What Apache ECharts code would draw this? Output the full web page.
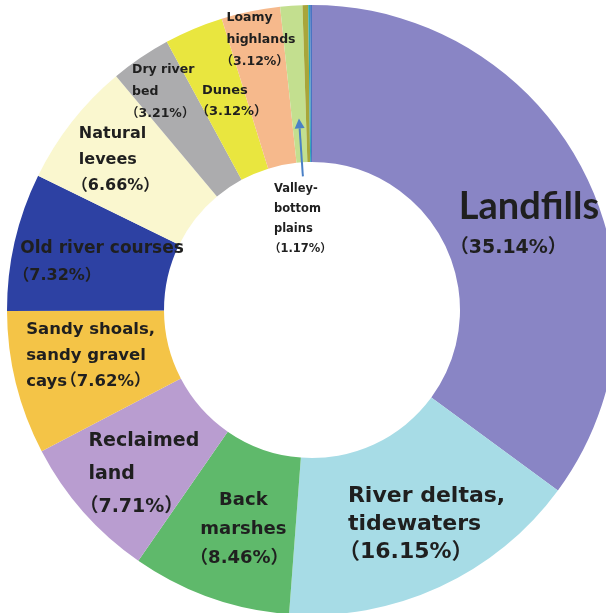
<!DOCTYPE html>
<html>
<head>
<meta charset="utf-8">
<script src="https://cdn.jsdelivr.net/npm/echarts@6/dist/echarts.min.js"></script>
<style>
  html, body { margin: 0; padding: 0; background: #ffffff; }
  #chart { width: 606px; height: 613px; }
</style>
</head>
<body>
<div id="chart"></div>
<script>
// ---- data ----
const categories = [
  'Landfills',
  'River deltas,\ntidewaters',
  'Back\nmarshes',
  'Reclaimed\nland',
  'Sandy shoals,\nsandy gravel\ncays',
  'Old river courses',
  'Natural\nlevees',
  'Dry river\nbed',
  'Dunes',
  'Loamy\nhighlands',
  'Valley-\nbottom\nplains',
  'Unlabeled A',
  'Unlabeled B',
  'Unlabeled C'
];
const shares = [35.14, 16.15, 8.46, 7.71, 7.62, 7.32, 6.66, 3.21, 3.12, 3.12, 1.17, 0.30, 0.10, 0.10];
const showLabel = [true, true, true, true, true, true, true, true, true, true, true, false, false, false];
const pctInline = [false, false, false, false, true, false, false, false, false, false, false, false, false, false];

// ---- styles ----
const colors = ['#8985c5', '#a7dce6', '#5fb96b', '#b99dd0', '#f4c447', '#2d41a3', '#faf7cf',
  '#acacae', '#e9e63f', '#f6b98c', '#c3df8f', '#a8a63a', '#2ea7b7', '#4a74c2'];
const SANS = '"DejaVu Sans", "Noto Sans CJK JP", sans-serif';
const LATO = 'Lato, "Noto Sans CJK JP", sans-serif';
const labelStyle = [
  { n: 38, p: 19, lh: 42, align: 'left', dx: -58, dy: 26, nf: LATO },
  { n: 22, p: 22, lh: 28, align: 'left', dx: -60, dy: 6 },
  { n: 18, p: 18, lh: 29, align: 'center', dx: 12, dy: 3 },
  { n: 19, p: 19, lh: 33, align: 'left', dx: -51, dy: 12 },
  { n: 16.5, p: 16.5, lh: 26, align: 'left', dx: -63, dy: -9 },
  { n: 17, p: 16, lh: 28, align: 'left', dx: -68, dy: 4 },
  { n: 16, p: 16, lh: 26, align: 'left', dx: -49, dy: -9 },
  { n: 12.5, p: 12.5, lh: 22, align: 'left', dx: -48, dy: -28 },
  { n: 13, p: 13, lh: 21, align: 'left', dx: -18, dy: 3 },
  { n: 12.5, p: 12.5, lh: 22, align: 'left', dx: -38, dy: -45 },
  { n: 11.5, p: 11.5, lh: 20, align: 'left', dx: -20, dy: 138 }
];
const CX = 312, CY = 310, R0 = 148, R1 = 305;

function buildLabel(i) {
  const lines = categories[i].split('\n');
  const pct = '（' + shares[i].toFixed(2) + '%）';
  let parts = lines.map(l => '{n|' + l + '}');
  if (pctInline[i]) parts[parts.length - 1] += '{p|' + pct + '}';
  else parts.push('{p|' + pct + '}');
  return parts.join('\n');
}

const data = shares.map((v, i) => {
  const s = labelStyle[i];
  return {
    name: categories[i].replace(/\n/g, ' '),
    value: v,
    itemStyle: { color: colors[i] },
    label: showLabel[i] ? {
      show: true,
      position: 'inside',
      formatter: buildLabel(i),
      rich: {
        n: { fontSize: s.n, lineHeight: s.lh, fontWeight: 'bold', color: '#1f1f1f', fontFamily: s.nf || SANS },
        p: { fontSize: s.p, lineHeight: s.lh, fontWeight: 'bold', color: '#1f1f1f', fontFamily: SANS,
             padding: [0, 0, 0, -Math.round(s.p * 0.45)] }
      }
    } : { show: false }
  };
});

const chart = echarts.init(document.getElementById('chart'), null, { renderer: 'canvas' });

// arrow for Valley-bottom plains, derived from the slice's mid angle
const total = shares.reduce((a, b) => a + b, 0);
let cum = 0;
for (let i = 0; i < 10; i++) cum += shares[i];
const midFrac = (cum + shares[10] / 2) / total;
const ang = midFrac * 2 * Math.PI; // clockwise from top
function pt(r) { return [CX + r * Math.sin(ang), CY - r * Math.cos(ang)]; }
const pBase = pt(R0 - 14), pTip = pt(R0 + 44);
const ux = Math.sin(ang), uy = -Math.cos(ang);
const headLen = 10, headW = 5;
const hb = [pTip[0] - ux * headLen, pTip[1] - uy * headLen];

chart.setOption({
  backgroundColor: '#ffffff',
  animation: false,
  series: [{
    type: 'pie',
    center: [CX, CY],
    radius: [R0, R1],
    startAngle: 90,
    clockwise: true,
    avoidLabelOverlap: false,
    label: { show: true, position: 'inside' },
    labelLine: { show: false },
    emphasis: { disabled: true },
    data: data,
    labelLayout: function (params) {
      const s = labelStyle[params.dataIndex];
      if (!s) return {};
      const r = params.labelRect;
      const mx = r.x + r.width / 2, my = r.y + r.height / 2;
      return { x: mx + s.dx, y: my + s.dy, align: s.align, verticalAlign: 'middle' };
    }
  }],
  graphic: [
    {
      type: 'line', z: 100,
      shape: { x1: pBase[0], y1: pBase[1], x2: hb[0], y2: hb[1] },
      style: { stroke: '#4a80c6', lineWidth: 2 }
    },
    {
      type: 'polygon', z: 100,
      shape: { points: [pTip, [hb[0] - uy * headW, hb[1] + ux * headW], [hb[0] + uy * headW, hb[1] - ux * headW]] },
      style: { fill: '#4a80c6' }
    }
  ]
});
</script>
</body>
</html>
